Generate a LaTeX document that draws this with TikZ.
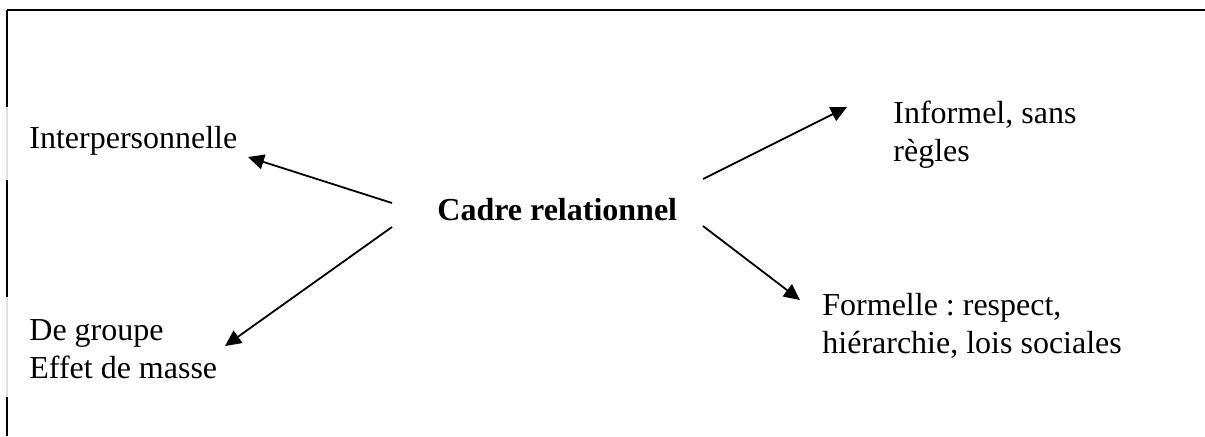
\documentclass[tikz,border=0pt]{standalone}
\usepackage{fontspec}
\setmainfont{Liberation Serif}
\usetikzlibrary{arrows.meta}
\frenchspacing

\begin{document}
\begin{tikzpicture}[x=0.5pt, y=-0.5pt,
    txt/.style={anchor=base west, inner sep=0pt, align=left,
    font=\fontsize{16}{18.6}\selectfont},
    link/.style={-{Triangle[length=8pt, width=7.5pt]}, line width=0.9pt}]
    \useasboundingbox (0,0) rectangle (1205,436);

    \draw[line width=1pt] (7,10) -- (1205,10);
    \draw[line width=1pt] (7,10) -- (7,107);
    \draw[line width=1pt, black!12] (7,107) -- (7,180);
    \draw[line width=1pt] (7,180) -- (7,297);
    \draw[line width=1pt, black!12] (7,297) -- (7,397);
    \draw[line width=1pt] (7,397) -- (7,436);

    \node[txt, font=\fontsize{16}{18.6}\selectfont\bfseries] (cadre) at (437,220) {Cadre relationnel};
    \node[txt] (inter) at (29,148) {Interpersonnelle};
    \node[txt] (groupe) at (29,378) {De groupe\\Effet de masse};
    \node[txt] (informel) at (893,161) {Informel, sans\\règles};
    \node[txt] (formelle) at (822,353) {Formelle : respect,\\hiérarchie, lois sociales};

    \coordinate (S1) at (392,203);
    \coordinate (S2) at (392,227);
    \coordinate (S3) at (703,179);
    \coordinate (S4) at (703,226);
    \coordinate (T1) at (248,157);
    \coordinate (T2) at (225,346);
    \coordinate (T3) at (847,107);
    \coordinate (T4) at (800,300);

    \draw[link] (S1) -- (T1);
    \draw[link] (S2) -- (T2);
    \draw[link] (S3) -- (T3);
    \draw[link] (S4) -- (T4);
\end{tikzpicture}
\end{document}
